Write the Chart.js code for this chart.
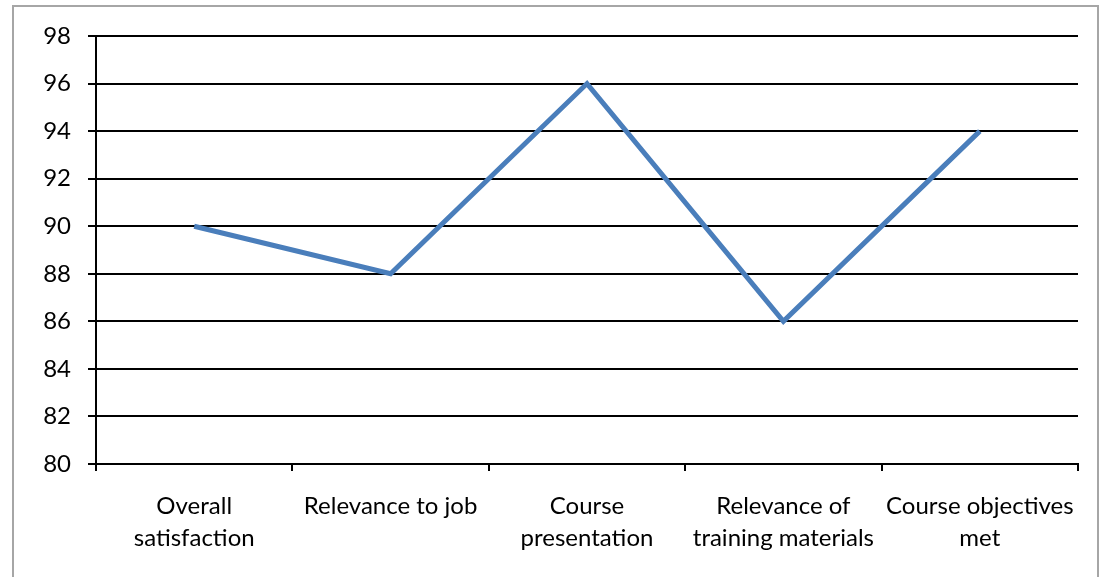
<!DOCTYPE html>
<html>
<head>
<meta charset="utf-8">
<script src="https://cdn.jsdelivr.net/npm/chart.js@4/dist/chart.umd.min.js"></script>
<style>
  html, body { margin: 0; padding: 0; background: #fff; overflow: hidden; }
  #wrap { position: relative; width: 1099px; height: 577px; }
  #frame { position: absolute; left: 12px; top: 5px; width: 1083px; height: 600px;
           border: 2px solid #a6a6a6; pointer-events: none; }
</style>
</head>
<body>
<div id="wrap">
  <canvas id="myChart" width="1099" height="577"></canvas>
  <div id="frame"></div>
</div>
<script>
'use strict';

// chart data
var categories = [
  ['Overall', 'satisfaction'],
  'Relevance to job',
  ['Course', 'presentation'],
  ['Relevance of', 'training materials'],
  ['Course objectives', 'met']
];
var scores = [90, 88, 96, 86, 94];
var yMin = 80;
var yMax = 98;
var yStep = 2;

var fontFamily = 'Lato, "Liberation Sans", sans-serif';

var ctx = document.getElementById('myChart').getContext('2d');
new Chart(ctx, {
  type: 'line',
  data: {
    labels: categories,
    datasets: [{
      label: 'Score',
      data: scores,
      borderColor: '#4a7ebb',
      borderWidth: 5,
      pointRadius: 0,
      tension: 0,
      fill: false
    }]
  },
  options: {
    responsive: false,
    animation: false,
    layout: { padding: { left: 0, top: 36, right: 21, bottom: 0 } },
    plugins: { legend: { display: false }, tooltip: { enabled: false } },
    scales: {
      x: {
        offset: true,
        grid: {
          offset: true,
          drawOnChartArea: false,
          color: '#000',
          lineWidth: 2,
          tickLength: 7
        },
        border: { color: '#000', width: 2 },
        ticks: {
          color: '#000',
          font: { family: fontFamily, size: 24, lineHeight: 1.33 },
          padding: 19,
          maxRotation: 0,
          autoSkip: false
        },
        afterFit: function (scale) { scale.height = 113; }
      },
      y: {
        min: yMin,
        max: yMax,
        ticks: {
          stepSize: yStep,
          color: '#000',
          font: { family: fontFamily, size: 24 },
          padding: 17
        },
        grid: {
          color: '#000',
          lineWidth: 2,
          tickLength: 8
        },
        border: { color: '#000', width: 2 },
        afterFit: function (scale) { scale.width = 96; }
      }
    }
  }
});
</script>
</body>
</html>
